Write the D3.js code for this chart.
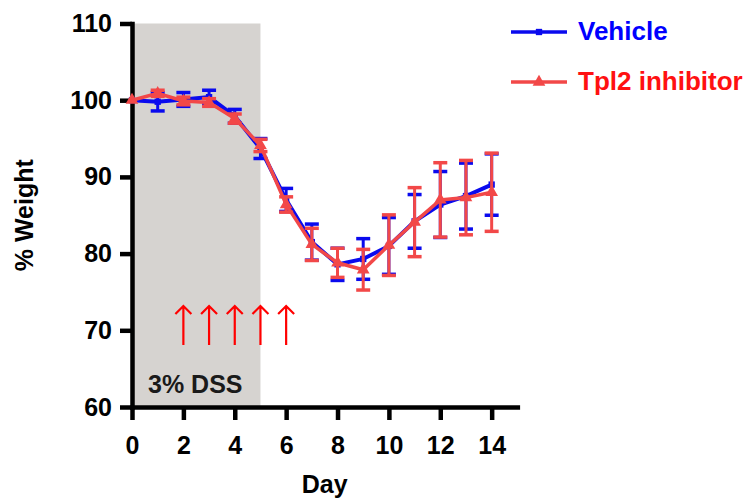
<!DOCTYPE html>
<html>
<head>
<meta charset="utf-8">
<script src="https://cdn.jsdelivr.net/npm/d3@7"></script>
<style>
  body { margin: 0; background: #fff; }
  svg text { font-family: "Liberation Sans", Arial, sans-serif; font-weight: bold; }
</style>
</head>
<body>
<div class="chart"></div>
<script>
const svgWidth = 749;
const svgHeight = 499;

// data
const days = [0, 1, 2, 3, 4, 5, 6, 7, 8, 9, 10, 11, 12, 13, 14];
const vehicleMean = [100, 99.8, 100.1, 100.4, 97.9, 93.7, 87.0, 81.5, 78.6, 79.3, 81.0, 84.2, 86.4, 87.5, 89.0];
const vehicleErr = [0, 1.2, 0.9, 0.9, 0.9, 1.3, 1.5, 2.35, 2.1, 2.65, 3.7, 3.5, 4.3, 4.3, 4.0];
const tplMean = [100, 100.9, 99.9, 99.7, 97.6, 94.1, 86.4, 81.2, 78.8, 77.9, 81.1, 84.1, 87.0, 87.3, 88.0];
const tplErr = [0, 0.4, 0.5, 0.5, 0.6, 0.8, 1.0, 2.1, 1.9, 2.65, 3.95, 4.5, 4.85, 4.85, 5.1];
const xTicks = [0, 2, 4, 6, 8, 10, 12, 14];
const yTicks = [60, 70, 80, 90, 100, 110];
const arrowDays = [2, 3, 4, 5, 6];
const dssDays = [0, 5];

const blue = "#0a0aee";
const red = "#f24848";

const svg = d3.select(".chart")
    .append("svg")
    .attr("width", svgWidth)
    .attr("height", svgHeight);

const x = d3.scaleLinear().domain([0, 15]).range([132, 132 + 15 * 25.69]);
const y = d3.scaleLinear().domain([60, 110]).range([407, 23.5]);

// shaded DSS period
svg.append("rect")
    .attr("x", x(dssDays[0]))
    .attr("y", y(110))
    .attr("width", x(dssDays[1]) - x(dssDays[0]))
    .attr("height", y(60) - y(110))
    .attr("fill", "#d6d3d0");

svg.append("text")
    .attr("x", 148)
    .attr("y", 393)
    .attr("font-size", 25)
    .attr("fill", "#1a1a1a")
    .text("3% DSS");

// arrows
arrowDays.forEach(d => {
    const ax = x(d);
    svg.append("path")
        .attr("d", `M${ax},345 V306 M${ax - 8},314 L${ax},306 L${ax + 8},314`)
        .attr("fill", "none")
        .attr("stroke", "#ff0000")
        .attr("stroke-width", 2.2);
});

// axes
const xAxis = svg.append("g")
    .attr("transform", `translate(0, ${y(60)})`)
    .call(d3.axisBottom(x).tickValues(xTicks).tickSize(13).tickSizeOuter(0).tickPadding(16));

const yAxis = svg.append("g")
    .attr("transform", `translate(${x(0)}, 0)`)
    .call(d3.axisLeft(y).tickValues(yTicks).tickSize(12).tickSizeOuter(0).tickPadding(8));

[xAxis, yAxis].forEach(a => {
    a.select(".domain").attr("stroke", "#000").attr("stroke-width", 4.5).attr("stroke-linecap", "square");
    a.selectAll(".tick line").attr("stroke", "#000").attr("stroke-width", 4.5);
    a.selectAll(".tick text").attr("font-size", 25).attr("fill", "#000");
});

// axis titles
svg.append("text")
    .attr("x", (x(0) + x(15)) / 2)
    .attr("y", 493)
    .attr("text-anchor", "middle")
    .attr("font-size", 25)
    .text("Day");

svg.append("text")
    .attr("transform", `translate(33, ${(y(60) + y(110)) / 2}) rotate(-90)`)
    .attr("text-anchor", "middle")
    .attr("font-size", 25)
    .text("% Weight");

// series
function drawSeries(mean, err, color, lineWidth, marker) {
    const g = svg.append("g");
    const pts = days.map((d, i) => ({ d: d, m: mean[i], e: err[i] }));

    const bars = g.selectAll(".err").data(pts).enter().append("g");
    bars.append("line")
        .attr("x1", p => x(p.d)).attr("x2", p => x(p.d))
        .attr("y1", p => y(p.m + p.e)).attr("y2", p => y(p.m - p.e))
        .attr("stroke", color).attr("stroke-width", 3);
    [1, -1].forEach(s => {
        bars.filter(p => p.e > 0).append("line")
            .attr("x1", p => x(p.d) - 7).attr("x2", p => x(p.d) + 7)
            .attr("y1", p => y(p.m + s * p.e)).attr("y2", p => y(p.m + s * p.e))
            .attr("stroke", color).attr("stroke-width", 3.5);
    });

    g.append("path")
        .datum(pts)
        .attr("fill", "none")
        .attr("stroke", color)
        .attr("stroke-width", lineWidth)
        .attr("d", d3.line().x(p => x(p.d)).y(p => y(p.m)));

    g.selectAll(".mk").data(pts).enter().append("path")
        .attr("transform", p => `translate(${x(p.d)}, ${y(p.m)})`)
        .attr("d", marker)
        .attr("fill", color);
}

const squareMark = d3.symbol(d3.symbolSquare, 40)();
const triMark = d3.symbol(d3.symbolTriangle, 70)();

drawSeries(vehicleMean, vehicleErr, blue, 4, squareMark);
drawSeries(tplMean, tplErr, red, 3.5, triMark);

// legend
const legend = [
    { name: "Vehicle", color: blue, text: "#0000ff", mark: squareMark, y: 32 },
    { name: "Tpl2 inhibitor", color: red, text: "#ff1111", mark: triMark, y: 82 }
];
legend.forEach(l => {
    svg.append("line")
        .attr("x1", 511).attr("x2", 567)
        .attr("y1", l.y).attr("y2", l.y)
        .attr("stroke", l.color).attr("stroke-width", 3.5);
    svg.append("path")
        .attr("transform", `translate(539, ${l.y})`)
        .attr("d", l.mark)
        .attr("fill", l.color);
    svg.append("text")
        .attr("x", 578)
        .attr("y", l.y + 7.5)
        .attr("font-size", 26)
        .attr("fill", l.text)
        .text(l.name);
});
</script>
</body>
</html>
